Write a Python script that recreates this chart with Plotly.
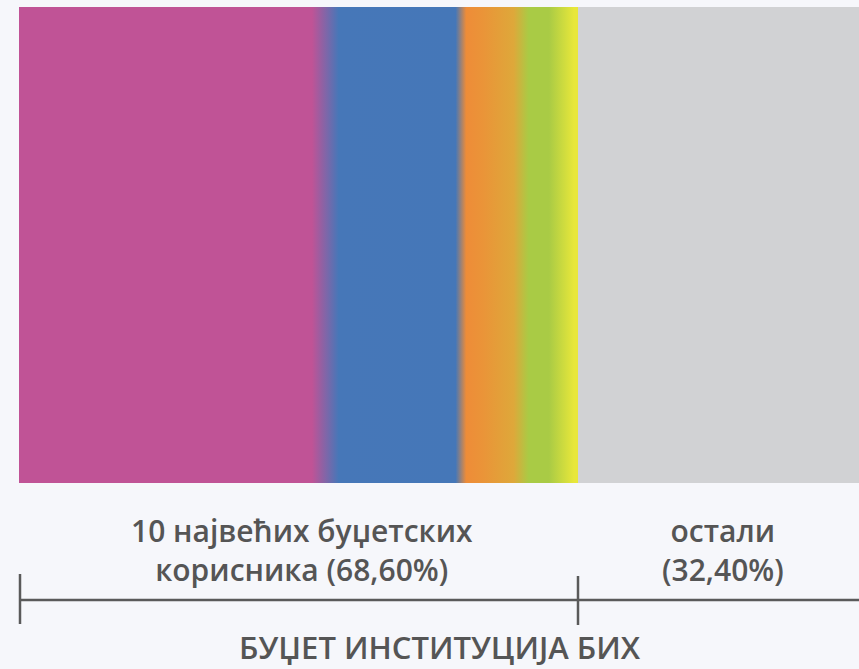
import plotly.graph_objects as go

# Data
groups = ["10 највећих буџетских<br>корисника (68,60%)", "остали<br>(32,40%)"]
shares = [68.60, 32.40]
title_text = "БУЏЕТ ИНСТИТУЦИЈА БИХ"

W, H = 859, 669
BG = "#f6f7fb"
TXT = "#555555"
FONT = "Open Sans"

left_px, split_px = 19, 578
scale = (split_px - left_px) / shares[0]
x0 = -left_px / scale
split_frac = split_px / W

fig = go.Figure()

# gradient segment for the 10 largest budget users
fig.add_trace(go.Scatter(
    x=[0, shares[0], shares[0], 0, 0],
    y=[0, 0, 1, 1, 0],
    mode="lines",
    line=dict(width=0),
    fill="toself",
    fillgradient=dict(
        type="horizontal",
        colorscale=[
            [0.0, "#c05396"],
            [0.524, "#c05396"],
            [0.572, "#4677b8"],
            [0.781, "#4577b8"],
            [0.800, "#ee8c38"],
            [0.83, "#ea9438"],
            [0.885, "#dea83a"],
            [0.912, "#a9cb45"],
            [0.948, "#a9cb45"],
            [0.993, "#e8e73a"],
            [1.0, "#e8e73a"],
        ],
    ),
    hoverinfo="skip",
    showlegend=False,
    xaxis="x", yaxis="y",
))

# others
fig.add_trace(go.Bar(
    x=[shares[1]], base=[shares[0]], y=[0.5], width=[1],
    orientation="h",
    marker=dict(color="#d1d2d4", line=dict(width=0)),
    hoverinfo="skip", showlegend=False,
    xaxis="x2", yaxis="y",
))

ybot = 1 - 483 / H
ytop = 1 - 7 / H

fig.update_layout(
    width=W, height=H,
    margin=dict(l=0, r=0, t=0, b=0),
    paper_bgcolor=BG, plot_bgcolor=BG,
    xaxis=dict(domain=[0, split_frac], range=[x0, shares[0]], visible=False, fixedrange=True),
    xaxis2=dict(domain=[split_frac, 1], range=[shares[0], shares[0] + shares[1]], visible=False,
                anchor="y", fixedrange=True),
    yaxis=dict(domain=[ybot, ytop], range=[0, 1], visible=False, fixedrange=True),
    bargap=0,
    showlegend=False,
)

def py(px):
    return 1 - px / H

# labels
fig.add_annotation(x=302 / W, y=py(550), xref="paper", yref="paper",
                   text=groups[0], showarrow=False,
                   font=dict(family=FONT, size=30, color=TXT, weight=600),
                   align="center", xanchor="center", yanchor="middle")
fig.add_annotation(x=723 / W, y=py(550), xref="paper", yref="paper",
                   text=groups[1], showarrow=False,
                   font=dict(family=FONT, size=30, color=TXT, weight=600),
                   align="center", xanchor="center", yanchor="middle")
fig.add_annotation(x=440 / W, y=py(647), xref="paper", yref="paper",
                   text=title_text, showarrow=False, borderpad=0,
                   font=dict(family=FONT, size=31, color=TXT, weight=600),
                   xanchor="center", yanchor="middle")

# bracket
lc = dict(color="#5a5a5a", width=2.5)
fig.add_shape(type="line", xref="paper", yref="paper",
              x0=left_px / W, x1=1, y0=py(600), y1=py(600), line=lc)
fig.add_shape(type="line", xref="paper", yref="paper",
              x0=20 / W, x1=20 / W, y0=py(574), y1=py(624), line=lc)
fig.add_shape(type="line", xref="paper", yref="paper",
              x0=split_frac, x1=split_frac, y0=py(576), y1=py(625), line=lc)

fig.write_html(
    "out.html",
    config={"displayModeBar": False},
    post_script="document.body.style.margin='0';document.body.style.background='%s';" % BG,
)
